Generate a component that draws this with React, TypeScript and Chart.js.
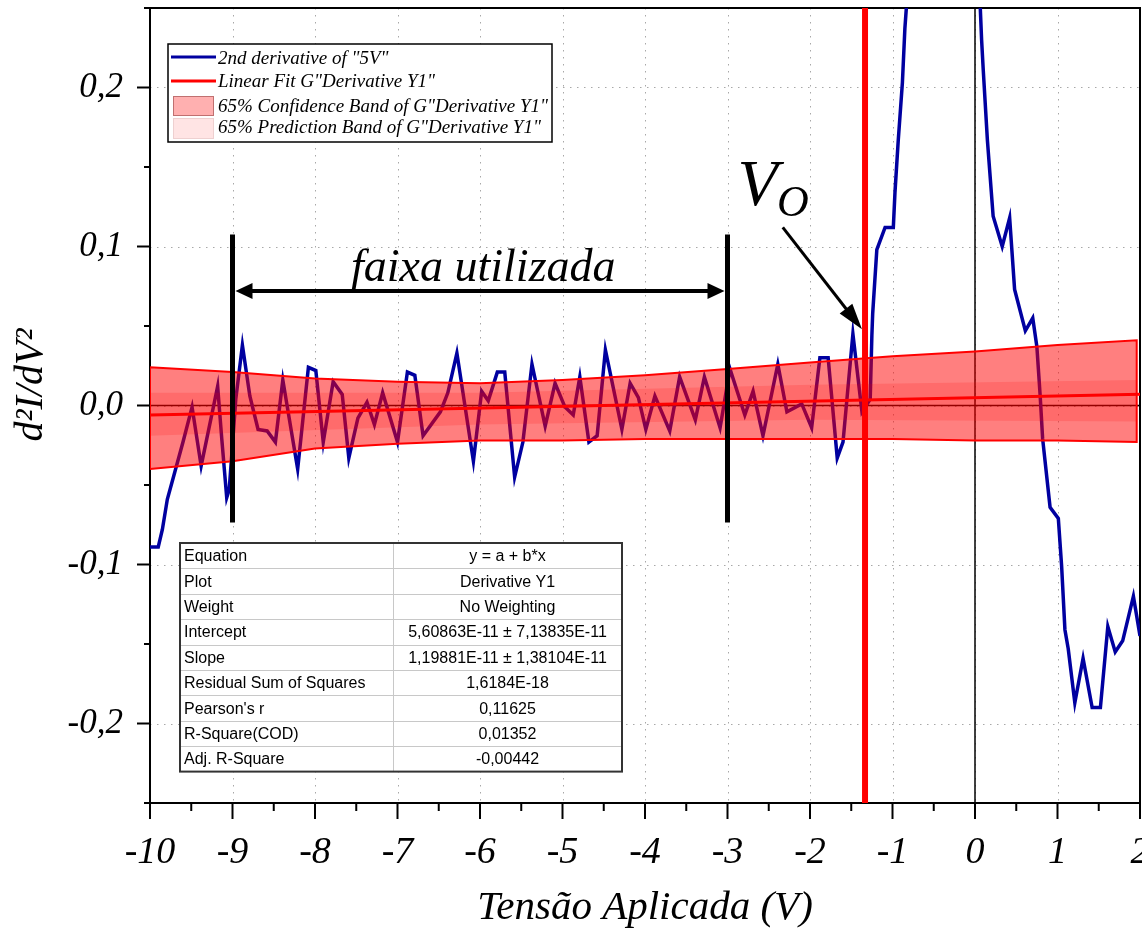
import { useEffect, useRef } from 'react';
import { Chart, registerables } from 'chart.js';

Chart.register(...registerables);

const SERIF = '"Liberation Serif", "Times New Roman", serif';
const SANS = '"Liberation Sans", Arial, sans-serif';

// 2nd derivative of "5V" (blue curve)
const derivX = [
  -10.0, -9.9, -9.85, -9.79, -9.7, -9.6, -9.49, -9.38, -9.18, -9.13, -9.07, -9.04, -8.96, -8.88, -8.79, -8.69,
  -8.58, -8.48, -8.39, -8.21, -8.08, -7.99, -7.9, -7.78, -7.67, -7.59, -7.48, -7.37, -7.28, -7.18, -7.0, -6.88,
  -6.79, -6.69, -6.48, -6.39, -6.28, -6.08, -5.98, -5.9, -5.79, -5.7, -5.58, -5.48, -5.37, -5.21, -5.09, -4.97,
  -4.87, -4.79, -4.68, -4.58, -4.48, -4.28, -4.18, -4.08, -3.99, -3.88, -3.7, -3.58, -3.39, -3.28, -3.09, -2.97,
  -2.79, -2.69, -2.57, -2.39, -2.28, -2.1, -1.98, -1.88, -1.78, -1.67, -1.6, -1.48, -1.37, -1.27, -1.25, -1.24,
  -1.19, -1.09, -0.99, -0.97, -0.93, -0.88, -0.85, -0.75, -0.45, -0.2, 0.06, 0.08, 0.1, 0.15, 0.22, 0.33,
  0.42, 0.48, 0.61, 0.7, 0.75, 0.79, 0.82, 0.91, 1.01, 1.05, 1.09, 1.13, 1.21, 1.31, 1.42, 1.52,
  1.61, 1.7, 1.79, 1.92, 2.0,
];
const derivY = [
  -0.089, -0.089, -0.078, -0.059, -0.042, -0.023, -0.001, -0.038, 0.012, -0.021, -0.058, -0.053, 0.004, 0.038, 0.006, -0.015,
  -0.016, -0.023, 0.016, -0.04, 0.024, 0.022, -0.023, 0.015, 0.007, -0.033, -0.008, 0.002, -0.012, 0.008, -0.023, 0.021,
  0.019, -0.019, -0.004, 0.008, 0.033, -0.035, 0.009, 0.003, 0.021, 0.021, -0.045, -0.023, 0.026, -0.013, 0.014, -0.001,
  -0.006, 0.018, -0.023, -0.019, 0.035, -0.015, 0.014, 0.005, -0.015, 0.006, -0.016, 0.018, -0.009, 0.018, -0.014, 0.023,
  -0.006, 0.009, -0.019, 0.026, -0.004, 0.001, -0.014, 0.03, 0.03, -0.033, -0.023, 0.045, -0.004, 0.004, 0.044, 0.058,
  0.098, 0.112, 0.112, 0.134, 0.167, 0.203, 0.237, 0.31, 0.37, 0.33, 0.255, 0.23, 0.211, 0.167, 0.119, 0.1,
  0.118, 0.073, 0.047, 0.055, 0.037, 0.006, -0.021, -0.064, -0.071, -0.101, -0.141, -0.153, -0.187, -0.159, -0.19, -0.19,
  -0.139, -0.155, -0.148, -0.12, -0.145,
];

// Linear fit and its bands
const fitX = [-10, 2];
const fitY = [-0.006, 0.007];
const bandX = [-10, -9, -8, -7, -6, -5, -4, -3, -2, -1, 0, 1, 1.96];
const bandUpper = [0.024, 0.021, 0.017, 0.015, 0.014, 0.016, 0.019, 0.023, 0.027, 0.031, 0.034, 0.038, 0.041];
const bandLower = [-0.04, -0.035, -0.027, -0.024, -0.022, -0.022, -0.021, -0.021, -0.021, -0.021, -0.022, -0.022, -0.023];
const innerX = [-10, -6, -2, 1.96];
const innerUpper = [0.008, 0.008, 0.013, 0.016];
const innerLower = [-0.019, -0.012, -0.009, -0.01];

// Markers
const voltageOnset = -1.333;
const rangeX = [-9, -3];
const rangeBarTop = 0.1075;
const rangeBarBottom = -0.0736;
const rangeArrowY = 0.072;

const legendLabels = [
  '2nd derivative of "5V"',
  'Linear Fit G"Derivative Y1"',
  '65% Confidence Band of G"Derivative Y1"',
  '65% Prediction Band of G"Derivative Y1"',
];

const tableLabels = [
  'Equation', 'Plot', 'Weight', 'Intercept', 'Slope', 'Residual Sum of Squares', "Pearson's r", 'R-Square(COD)', 'Adj. R-Square',
];
const tableValues = [
  'y = a + b*x', 'Derivative Y1', 'No Weighting', '5,60863E-11 ± 7,13835E-11', '1,19881E-11 ± 1,38104E-11',
  '1,6184E-18', '0,11625', '0,01352', '-0,00442',
];

const xTitle = 'Tensão Aplicada (V)';
const yTitle = 'd²I/dV²';

const pts = (xs: number[], ys: number[]) => xs.map((x, i) => ({ x, y: ys[i] }));
const isMajorY = (v: number) => Math.round(v * 100) % 10 === 0;

const overlayPlugin = {
  id: 'overlay',
  beforeDatasetsDraw(chart: any) {
    const { ctx, chartArea: a } = chart;
    const xs = chart.scales.x;
    const ys = chart.scales.y;
    ctx.save();
    ctx.strokeStyle = '#a8a8a8';
    ctx.lineWidth = 1;
    ctx.setLineDash([1.5, 5.5]);
    for (const t of xs.ticks) {
      if (!Number.isInteger(t.value)) continue;
      const p = Math.round(xs.getPixelForValue(t.value)) + 0.5;
      ctx.beginPath(); ctx.moveTo(p, a.top); ctx.lineTo(p, a.bottom); ctx.stroke();
    }
    for (const t of ys.ticks) {
      if (!isMajorY(t.value)) continue;
      const p = Math.round(ys.getPixelForValue(t.value)) + 0.5;
      ctx.beginPath(); ctx.moveTo(a.left, p); ctx.lineTo(a.right, p); ctx.stroke();
    }
    ctx.setLineDash([]);
    ctx.strokeStyle = '#000';
    ctx.lineWidth = 2;
    ctx.strokeRect(a.left, a.top, a.right - a.left, a.bottom - a.top);
    ctx.restore();
  },
  afterDraw(chart: any) {
    const { ctx, chartArea: a } = chart;
    const xs = chart.scales.x;
    const ys = chart.scales.y;
    const X = (v: number) => xs.getPixelForValue(v);
    const Y = (v: number) => ys.getPixelForValue(v);
    ctx.save();

    // tick marks
    ctx.strokeStyle = '#000';
    ctx.lineWidth = 2;
    for (const t of xs.ticks) {
      const p = X(t.value);
      const len = Number.isInteger(t.value) ? 16 : 8;
      ctx.beginPath(); ctx.moveTo(p, a.bottom); ctx.lineTo(p, a.bottom + len); ctx.stroke();
    }
    for (const t of ys.ticks) {
      const p = Y(t.value);
      const len = isMajorY(t.value) ? 13 : 6;
      ctx.beginPath(); ctx.moveTo(a.left - len, p); ctx.lineTo(a.left, p); ctx.stroke();
    }

    // axis titles
    ctx.fillStyle = '#000';
    ctx.font = `italic 41px ${SERIF}`;
    ctx.textAlign = 'center';
    ctx.textBaseline = 'alphabetic';
    ctx.fillText(xTitle, (a.left + a.right) / 2, 919);
    ctx.save();
    ctx.translate(42, 385);
    ctx.rotate(-Math.PI / 2);
    ctx.font = `italic 40px ${SERIF}`;
    ctx.fillText(yTitle, 0, 0);
    ctx.restore();

    // range double arrow
    const x1 = X(rangeX[0]);
    const x2 = X(rangeX[1]);
    const ay = Y(rangeArrowY);
    ctx.fillStyle = '#000';
    ctx.lineWidth = 4;
    ctx.beginPath(); ctx.moveTo(x1 + 10, ay); ctx.lineTo(x2 - 10, ay); ctx.stroke();
    ctx.beginPath(); ctx.moveTo(x1 + 3, ay); ctx.lineTo(x1 + 20, ay - 8); ctx.lineTo(x1 + 20, ay + 8); ctx.closePath(); ctx.fill();
    ctx.beginPath(); ctx.moveTo(x2 - 3, ay); ctx.lineTo(x2 - 20, ay - 8); ctx.lineTo(x2 - 20, ay + 8); ctx.closePath(); ctx.fill();

    ctx.font = `italic 46px ${SERIF}`;
    ctx.textAlign = 'center';
    ctx.fillText('faixa utilizada', X(-5.96), Y(0.0786));

    // V_O label and arrow
    ctx.textAlign = 'left';
    ctx.font = `italic 66px ${SERIF}`;
    ctx.fillText('V', X(-2.88), Y(0.1264));
    ctx.font = `italic 44px ${SERIF}`;
    ctx.fillText('O', X(-2.40), Y(0.1189));
    const sx = X(-2.33), sy = Y(0.112), ex = X(-1.37), ey = Y(0.048);
    const ang = Math.atan2(ey - sy, ex - sx);
    ctx.lineWidth = 3;
    ctx.beginPath(); ctx.moveTo(sx, sy); ctx.lineTo(ex - 18 * Math.cos(ang), ey - 18 * Math.sin(ang)); ctx.stroke();
    ctx.beginPath();
    ctx.moveTo(ex, ey);
    ctx.lineTo(ex - 26 * Math.cos(ang) + 8 * Math.sin(ang), ey - 26 * Math.sin(ang) - 8 * Math.cos(ang));
    ctx.lineTo(ex - 26 * Math.cos(ang) - 8 * Math.sin(ang), ey - 26 * Math.sin(ang) + 8 * Math.cos(ang));
    ctx.closePath(); ctx.fill();

    // legend
    const lx = a.left + 18, ly = a.top + 36, lw = 384, lh = 98;
    ctx.fillStyle = '#fff';
    ctx.fillRect(lx, ly, lw, lh);
    ctx.strokeStyle = '#000';
    ctx.lineWidth = 1.5;
    ctx.strokeRect(lx, ly, lw, lh);
    ctx.lineWidth = 3;
    ctx.strokeStyle = '#0000a0';
    ctx.beginPath(); ctx.moveTo(lx + 3, ly + 13); ctx.lineTo(lx + 48, ly + 13); ctx.stroke();
    ctx.strokeStyle = '#ff0000';
    ctx.beginPath(); ctx.moveTo(lx + 3, ly + 37); ctx.lineTo(lx + 48, ly + 37); ctx.stroke();
    ctx.lineWidth = 1;
    ctx.fillStyle = '#ffb0b0'; ctx.fillRect(lx + 5, ly + 52, 40, 19);
    ctx.strokeStyle = '#c07070'; ctx.strokeRect(lx + 5.5, ly + 52.5, 40, 19);
    ctx.fillStyle = '#ffe4e4'; ctx.fillRect(lx + 5, ly + 74, 40, 20);
    ctx.strokeStyle = '#eed0d0'; ctx.strokeRect(lx + 5.5, ly + 74.5, 40, 20);
    ctx.fillStyle = '#000';
    ctx.font = `italic 19px ${SERIF}`;
    ctx.textAlign = 'left';
    const legendBase = [20, 43, 68, 89];
    legendLabels.forEach((s, i) => ctx.fillText(s, lx + 50, ly + legendBase[i]));

    // statistics table
    const tx = 180, ty = 543, tw = 442, rowH = 25.4, colX = 393;
    const th = rowH * tableLabels.length;
    ctx.fillStyle = '#fff';
    ctx.fillRect(tx, ty, tw, th);
    ctx.strokeStyle = '#c8c8c8';
    ctx.lineWidth = 1;
    for (let i = 1; i < tableLabels.length; i++) {
      const yy = Math.round(ty + rowH * i) + 0.5;
      ctx.beginPath(); ctx.moveTo(tx, yy); ctx.lineTo(tx + tw, yy); ctx.stroke();
    }
    ctx.beginPath(); ctx.moveTo(colX + 0.5, ty); ctx.lineTo(colX + 0.5, ty + th); ctx.stroke();
    ctx.strokeStyle = '#333';
    ctx.lineWidth = 2;
    ctx.strokeRect(tx, ty, tw, th);
    ctx.fillStyle = '#000';
    ctx.font = `16px ${SANS}`;
    ctx.textBaseline = 'middle';
    tableLabels.forEach((s, i) => {
      const yy = ty + rowH * (i + 0.5) + 1;
      ctx.textAlign = 'left';
      ctx.fillText(s, tx + 4, yy);
      ctx.textAlign = 'center';
      ctx.fillText(tableValues[i], (colX + tx + tw) / 2, yy);
    });

    ctx.restore();
  },
};

export default function App() {
  const ref = useRef<HTMLCanvasElement | null>(null);
  useEffect(() => {
    document.body.style.margin = '0';
    document.body.style.overflow = 'hidden';
    const canvas = ref.current!;
    const outline = [
      ...pts(bandX, bandLower),
      ...pts(bandX, bandUpper).reverse(),
      { x: bandX[0], y: bandLower[0] },
    ];
    const chart = new Chart(canvas, {
      type: 'line',
      data: {
        datasets: [
          { label: 'zeroH', data: [{ x: -10, y: 0 }, { x: 2, y: 0 }], borderColor: '#000', borderWidth: 1.5, order: 20 },
          { label: 'zeroV', data: [{ x: 0, y: -0.25 }, { x: 0, y: 0.25 }], borderColor: '#000', borderWidth: 1.5, order: 19 },
          { label: legendLabels[0], data: pts(derivX, derivY), borderColor: '#0000a0', borderWidth: 3.5, order: 15 },
          { label: 'bandLower', data: pts(bandX, bandLower), borderColor: 'transparent', borderWidth: 1, fill: false, order: 10 },
          { label: legendLabels[2], data: pts(bandX, bandUpper), borderColor: 'transparent', borderWidth: 1, fill: '-1', backgroundColor: 'rgba(255,0,0,0.5)', order: 9 },
          { label: 'innerLower', data: pts(innerX, innerLower), borderColor: 'transparent', borderWidth: 1, fill: false, order: 8 },
          { label: 'innerUpper', data: pts(innerX, innerUpper), borderColor: 'transparent', borderWidth: 1, fill: '-1', backgroundColor: 'rgba(255,0,0,0.16)', order: 7 },
          { label: 'bandOutline', data: outline, borderColor: '#ff0000', borderWidth: 2, order: 6 },
          { label: legendLabels[1], data: pts(fitX, fitY), borderColor: '#ff0000', borderWidth: 3, order: 3 },
          { label: 'rangeStart', data: [{ x: rangeX[0], y: rangeBarTop }, { x: rangeX[0], y: rangeBarBottom }], borderColor: '#000', borderWidth: 5, order: 2 },
          { label: 'rangeEnd', data: [{ x: rangeX[1], y: rangeBarTop }, { x: rangeX[1], y: rangeBarBottom }], borderColor: '#000', borderWidth: 5, order: 2 },
          { label: 'Vo', data: [{ x: voltageOnset, y: -0.25 }, { x: voltageOnset, y: 0.25 }], borderColor: '#ff0000', borderWidth: 6, order: 1 },
        ],
      },
      options: {
        animation: false,
        responsive: false,
        devicePixelRatio: 1,
        events: [],
        layout: { padding: { top: 8, right: 2, left: 0, bottom: 0 } },
        elements: { point: { radius: 0 }, line: { tension: 0 } },
        plugins: { legend: { display: false }, tooltip: { enabled: false } },
        scales: {
          x: {
            type: 'linear',
            min: -10,
            max: 2,
            afterFit: (s: any) => { s.height = 126; s.paddingLeft = 0; s.paddingRight = 0; },
            grid: { display: false },
            border: { display: false },
            ticks: {
              stepSize: 0.5,
              autoSkip: false,
              maxRotation: 0,
              padding: 19,
              color: '#000',
              font: { family: SERIF, size: 38, style: 'italic' },
              callback: (v: any) => (Number.isInteger(v) ? String(v) : ''),
            },
          },
          y: {
            type: 'linear',
            min: -0.25,
            max: 0.25,
            afterFit: (s: any) => { s.width = 150; s.paddingTop = 0; s.paddingBottom = 0; },
            grid: { display: false },
            border: { display: false },
            ticks: {
              stepSize: 0.05,
              autoSkip: false,
              padding: 19,
              color: '#000',
              font: { family: SERIF, size: 35, style: 'italic' },
              callback: (v: any) => {
                const k = Math.round(v * 100);
                return k % 10 === 0 ? (k / 100).toFixed(1).replace('.', ',') : '';
              },
            },
          },
        },
      },
      plugins: [overlayPlugin],
    } as any);
    return () => chart.destroy();
  }, []);
  return (
    <div>
      <canvas ref={ref} width={1142} height={929} style={{ position: 'absolute', left: 0, top: 0, display: 'block' }} />
    </div>
  );
}
